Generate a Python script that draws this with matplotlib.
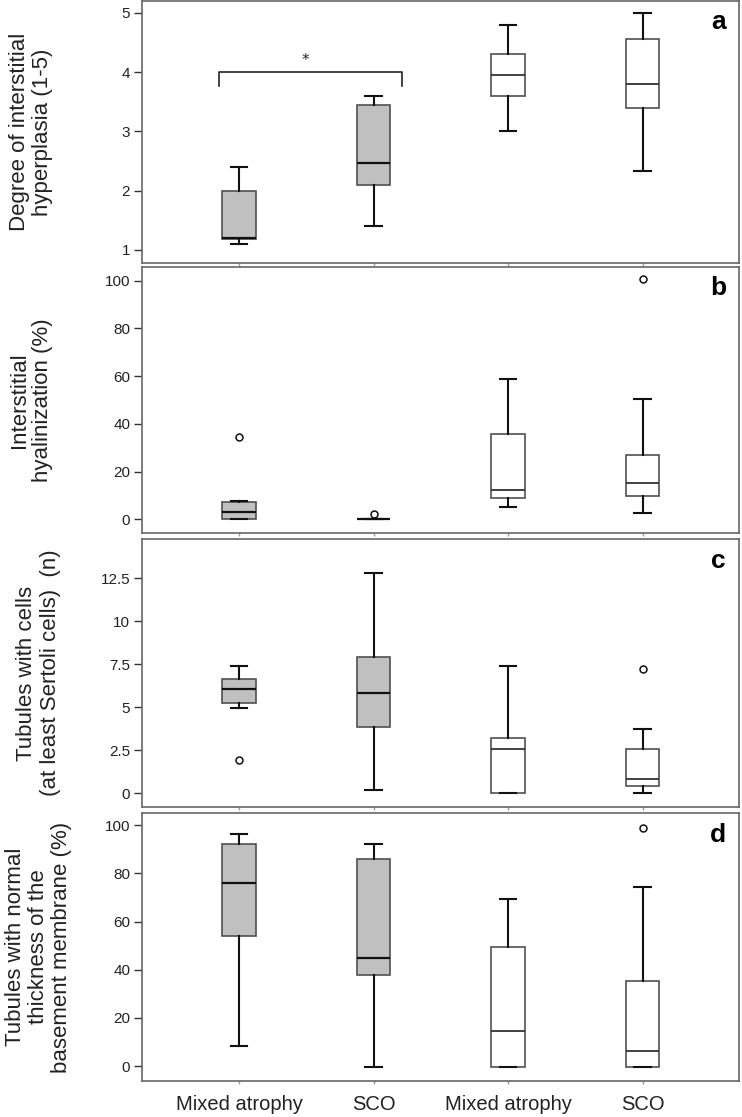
import matplotlib
matplotlib.use("Agg")
import matplotlib.pyplot as plt

# box statistics (positions 1..4)
groups = ["Mixed atrophy", "SCO", "Mixed atrophy", "SCO"]
positions = [1, 2, 3, 4]

# a: degree of interstitial hyperplasia
a_med = [1.2, 2.47, 3.95, 3.8]
a_q1 = [1.19, 2.1, 3.6, 3.4]
a_q3 = [2.0, 3.45, 4.3, 4.55]
a_lo = [1.1, 1.4, 3.0, 2.33]
a_hi = [2.4, 3.6, 4.8, 5.0]
a_fl = [[], [], [], []]

# b: interstitial hyalinization
b_med = [2.95, 0.0, 12.2, 15.4]
b_q1 = [0.0, 0.0, 9.0, 9.9]
b_q3 = [7.4, 0.0, 35.9, 27.0]
b_lo = [0.0, 0.0, 5.0, 2.9]
b_hi = [7.8, 0.0, 59.0, 50.6]
b_fl = [[34.5], [2.2], [], [100.6]]

# c: tubules with cells
c_med = [6.05, 5.85, 2.55, 0.85]
c_q1 = [5.25, 3.85, 0.0, 0.42]
c_q3 = [6.65, 7.95, 3.2, 2.55]
c_lo = [4.95, 0.2, 0.0, 0.0]
c_hi = [7.4, 12.8, 7.4, 3.75]
c_fl = [[1.95], [], [], [7.2]]

# d: tubules with normal basement membrane
d_med = [75.8, 44.8, 14.4, 6.4]
d_q1 = [53.9, 37.9, -0.5, -0.5]
d_q3 = [92.2, 85.8, 49.3, 35.3]
d_lo = [8.4, -0.5, -0.5, -0.5]
d_hi = [96.4, 92.3, 69.3, 74.3]
d_fl = [[], [], [], [98.8]]

panels = [
    ("a", "Degree of interstitial\nhyperplasia (1-5)", a_med, a_q1, a_q3, a_lo, a_hi, a_fl,
     (0.78, 5.2), [1, 2, 3, 4, 5], ["1", "2", "3", "4", "5"]),
    ("b", "Interstitial\nhyalinization (%)", b_med, b_q1, b_q3, b_lo, b_hi, b_fl,
     (-5.7, 105.7), [0, 20, 40, 60, 80, 100], ["0", "20", "40", "60", "80", "100"]),
    ("c", "Tubules with cells\n(at least Sertoli cells)  (n)", c_med, c_q1, c_q3, c_lo, c_hi, c_fl,
     (-0.8, 14.78), [0, 2.5, 5, 7.5, 10, 12.5], ["0", "2.5", "5", "7.5", "10", "12.5"]),
    ("d", "Tubules with normal\nthickness of the\nbasement membrane (%)", d_med, d_q1, d_q3, d_lo, d_hi, d_fl,
     (-6.2, 105.0), [0, 20, 40, 60, 80, 100], ["0", "20", "40", "60", "80", "100"]),
]

# axes rectangles in figure fraction (left, bottom, width, height)
rects = [
    (0.1914, 0.7646, 0.8046, 0.2346),
    (0.1914, 0.5228, 0.8046, 0.2381),
    (0.1914, 0.2775, 0.8046, 0.2399),
    (0.1914, 0.0322, 0.8046, 0.2399),
]
label_x = [0.042, 0.042, 0.052, 0.052]

sans = ["Liberation Sans", "DejaVu Sans"]
face = ["#c0c0c0", "#c0c0c0", "white", "white"]

fig = plt.figure(figsize=(7.42, 11.17), dpi=100)

for i, (letter, ylabel, med, q1, q3, lo, hi, fl, ylim, yt, ytl) in enumerate(panels):
    ax = fig.add_axes(rects[i])
    stats = []
    for k in range(4):
        stats.append({"med": med[k], "q1": q1[k], "q3": q3[k],
                      "whislo": lo[k], "whishi": hi[k], "fliers": fl[k]})
    bp = ax.bxp(stats, positions=positions, widths=0.25, capwidths=0.125,
                patch_artist=True, showfliers=True,
                whiskerprops=dict(color="#111111", lw=1.5),
                capprops=dict(color="#111111", lw=1.5),
                flierprops=dict(marker="o", markersize=5, markerfacecolor="white",
                                markeredgecolor="#111111", markeredgewidth=1.1))
    for k, box in enumerate(bp["boxes"]):
        box.set_facecolor(face[k])
        box.set_edgecolor("#505050")
        box.set_linewidth(1.2)
    for k, m in enumerate(bp["medians"]):
        m.set_color("#111111" if k < 2 else "#333333")
        m.set_linewidth(1.6 if k < 2 else 1.3)

    ax.set_xlim(0.279, 4.717)
    ax.set_ylim(*ylim)
    ax.set_yticks(yt)
    ax.set_yticklabels(ytl, family=sans, fontsize=11, color="#222222")
    ax.set_xticks(positions)
    if i == 3:
        ax.set_xticklabels(groups, family=sans, fontsize=14.5, color="#222222")
        ax.tick_params(axis="x", pad=8)
    else:
        ax.set_xticklabels([])
    ax.tick_params(axis="y", direction="out", length=5.5, width=1, color="#333333", pad=3)
    ax.tick_params(axis="x", direction="out", length=2, width=1, color="#999999")
    for sp in ax.spines.values():
        sp.set_color("#666666")
        sp.set_linewidth(1.2)

    b = rects[i][1] + rects[i][3] / 2
    fig.text(label_x[i], b, ylabel, rotation=90, ha="center", va="center",
             family=sans, fontsize=16, color="#222222", linespacing=1.15)
    ax.text(0.965, 0.92, letter, transform=ax.transAxes, ha="center", va="center",
            family=sans, fontsize=19, fontweight="bold", color="black")

    if letter == "a":
        ax.plot([0.852, 0.852, 2.212, 2.212], [3.77, 4.0, 4.0, 3.77],
                color="#222222", lw=1.2)
        ax.text(1.49, 4.2, "*", ha="center", va="center", fontsize=11, color="#222222")

fig.savefig("out.png", dpi=100)
